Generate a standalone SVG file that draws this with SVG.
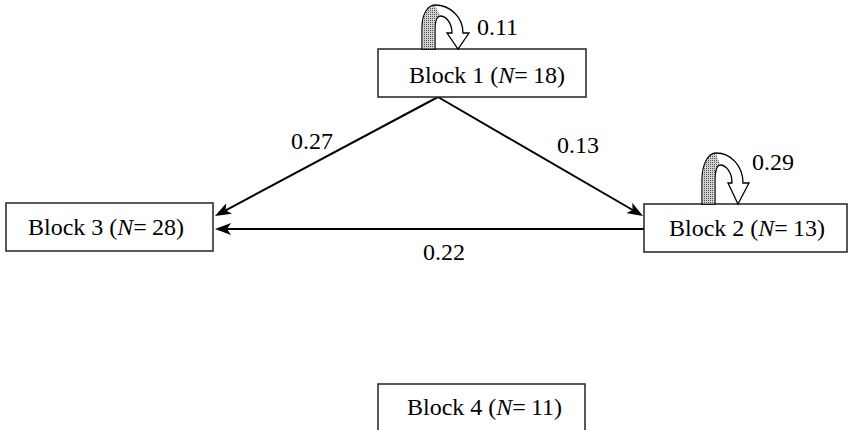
<svg xmlns="http://www.w3.org/2000/svg" width="851" height="430" viewBox="0 0 851 430">
<style>
.box{fill:#fff;stroke:#222;stroke-width:1.5}
.t{font-family:"Liberation Serif","Times New Roman",serif;font-size:24px;fill:#000}
.i{font-style:italic}
.edge{stroke:#000;stroke-width:2;fill:none}
.loop{fill:#fff;stroke:#000;stroke-width:1.3;stroke-linejoin:miter}
.shade{fill:url(#dots);stroke:none}
</style>
<defs>
<marker id="ah" viewBox="0 0 16 12" refX="6" refY="6" markerWidth="16" markerHeight="12" markerUnits="userSpaceOnUse" orient="auto">
<path d="M0,0 L16,6 L0,12 L4,6 Z" fill="#000"/>
</marker>
<pattern id="dots" width="2" height="2" patternUnits="userSpaceOnUse">
<rect width="2" height="2" fill="#d0d0d0"/>
<rect width="1" height="1" fill="#555"/>
</pattern>
</defs>
<g id="connectors">
<line class="edge" x1="438" y1="97" x2="223.8" y2="211.3" marker-end="url(#ah)"/>
<line class="edge" x1="438" y1="97" x2="634.4" y2="211" marker-end="url(#ah)"/>
<line class="edge" x1="644" y1="229" x2="225" y2="229" marker-end="url(#ah)"/>
<text class="t" x="291" y="149">0.27</text>
<text class="t" x="557" y="153">0.13</text>
<text class="t" x="423" y="260">0.22</text>
</g>
<g id="block1">
<rect class="box" x="378" y="49" width="208" height="48"/>
<text class="t" x="409" y="83">Block 1 (<tspan class="i">N</tspan>=<tspan dx="5">18)</tspan></text>
</g>
<g id="loop1">
<path class="loop" d="M422,49 L422,28 C422,14 428,5 435,5 C450,5 463,17 463,33 L469,33 L458,49 L447,33 L452,33 C452,23 446,16 440,16 C437,16 435,21 435,28 L435,49 Z"/>
<path class="shade" d="M422.7,48.5 L422.7,28 C422.7,14.5 428,5.7 435,5.7 L440,15.3 C436.5,15.5 434.3,21 434.3,28 L434.3,48.5 Z"/>
<text class="t" x="477" y="35">0.11</text>
</g>
<g id="block2">
<rect class="box" x="644" y="204" width="203" height="48"/>
<text class="t" x="669" y="236">Block 2 (<tspan class="i">N</tspan>=<tspan dx="5">13)</tspan></text>
</g>
<g id="loop2">
<path class="loop" d="M702,204 L702,180 C702,165 708,153 716,153 C731,153 743,166 743,183 L749,183 L738,204 L728,183 L732,183 C732,172 726,165 720,165 C717,165 715,171 715,180 L715,204 Z"/>
<path class="shade" d="M702.7,203.5 L702.7,180 C702.7,165.5 708,153.7 716,153.7 L720,164.3 C716.5,164.5 714.3,171 714.3,180 L714.3,203.5 Z"/>
<text class="t" x="752" y="170">0.29</text>
</g>
<g id="block3">
<rect class="box" x="6" y="203" width="207" height="48"/>
<text class="t" x="28" y="235">Block 3 (<tspan class="i">N</tspan>=<tspan dx="5">28)</tspan></text>
</g>
<g id="block4">
<rect class="box" x="378" y="384" width="207" height="60"/>
<text class="t" x="407" y="415">Block 4 (<tspan class="i">N</tspan>=<tspan dx="5">11)</tspan></text>
</g>
</svg>
